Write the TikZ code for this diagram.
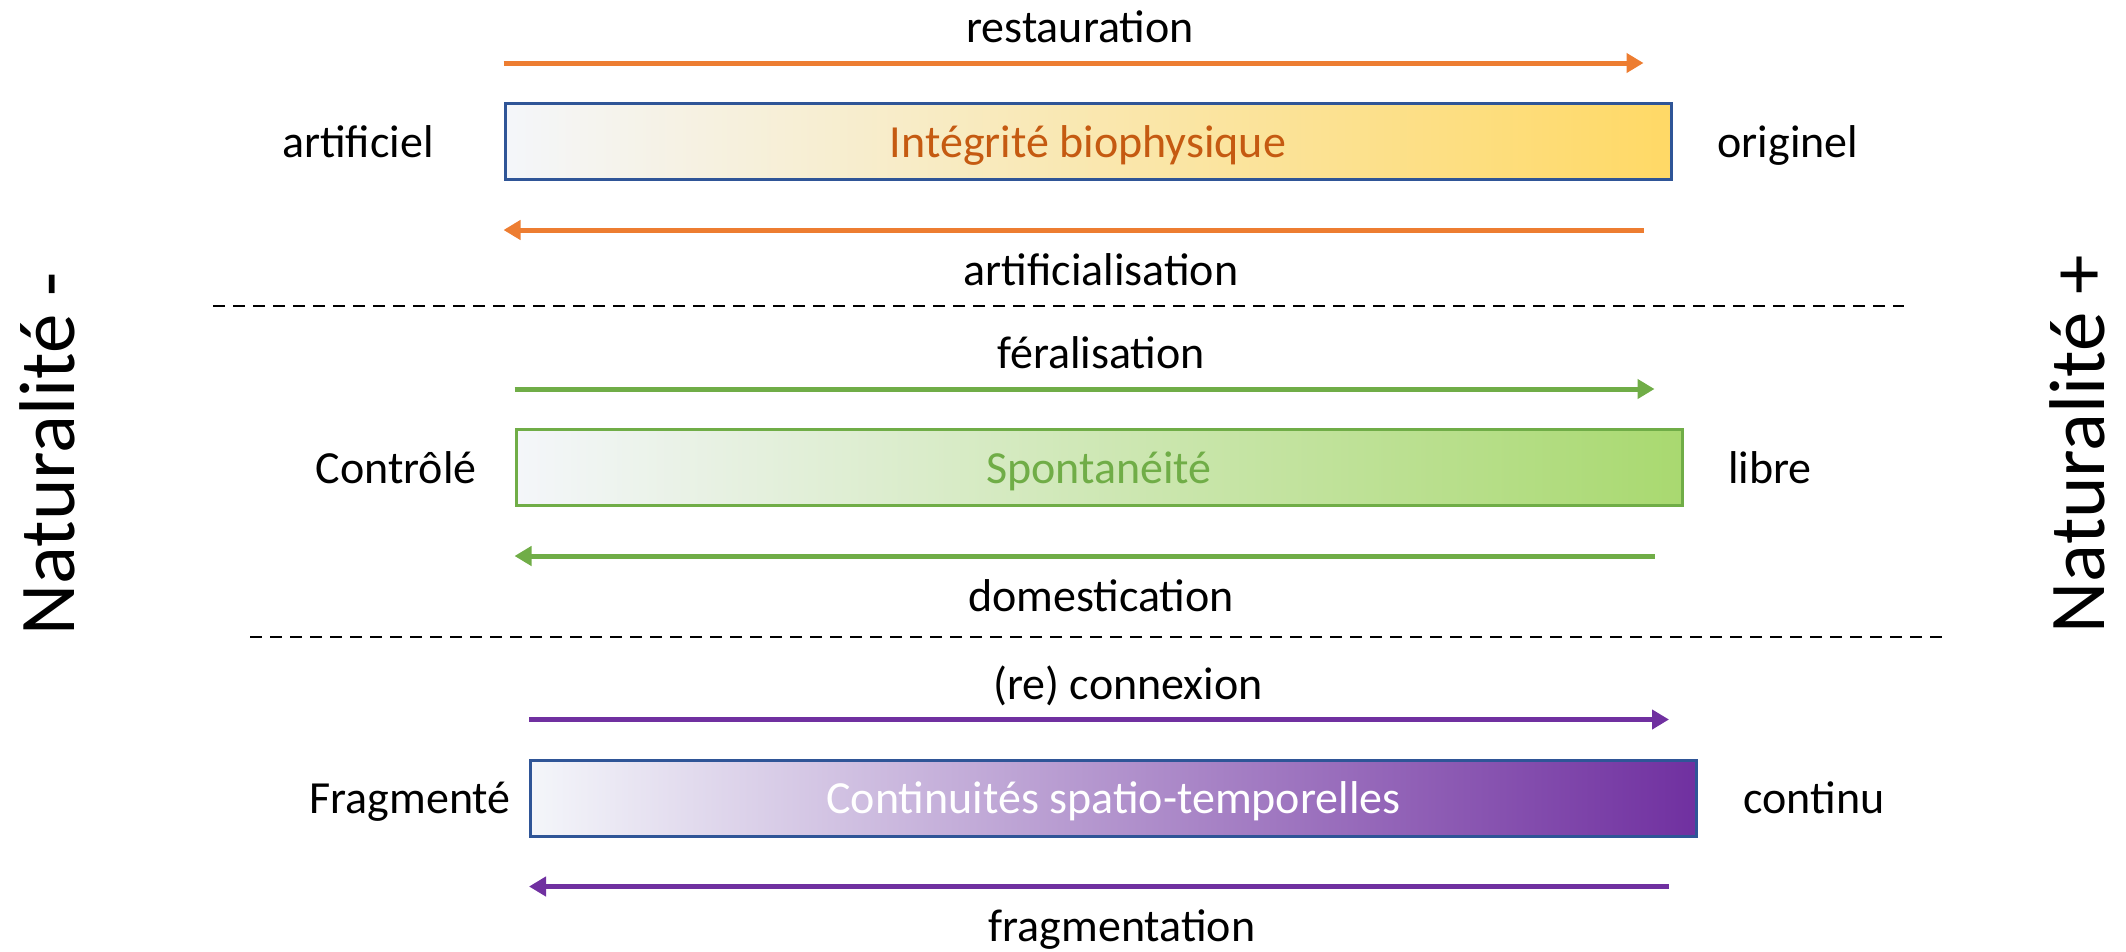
\documentclass[tikz,border=0pt]{standalone}
\usepackage{fontspec}
\setmainfont{Carlito}
\usetikzlibrary{arrows.meta}

\definecolor{paper}{HTML}{F4F6FA}
\definecolor{gold}{HTML}{FFD966}
\definecolor{rust}{HTML}{C55A11}
\definecolor{tangerine}{HTML}{ED7D31}
\definecolor{navy}{HTML}{2F5597}
\definecolor{leaf}{HTML}{70AD47}
\definecolor{lime}{HTML}{A9D970}
\definecolor{violet}{HTML}{7030A0}

\begin{document}
\begin{tikzpicture}[x=1pt,y=-1pt,
	bar/.style={line width=3pt,minimum width=1166pt,minimum height=76pt,inner sep=0pt,left color=paper,text depth=0pt,font=\fontsize{46}{55}\selectfont},
	flow/.style={line width=5pt,-{Triangle[length=17pt,width=19pt]}},
	lbl/.style={anchor=base,inner sep=0pt,font=\fontsize{46}{55}\selectfont},
	axis/.style={anchor=base,inner sep=0pt,rotate=90,font=\fontsize{79}{94}\selectfont},
	sep/.style={line width=2.5pt,dash pattern=on 12pt off 8pt}]

	\useasboundingbox (0,0) rectangle (2126,951);

	% bandeaux
	\node[bar,draw=navy,right color=gold] (b1) at (1088,141.5) {};
	\node[bar,draw=leaf,right color=lime] (b2) at (1099,467.5) {};
	\node[bar,draw=navy,right color=violet] (b3) at (1113.5,798) {};

	\node[lbl,text=rust] (t1) at (1088,157) {Intégrité biophysique};
	\node[lbl,text=leaf] (t2) at (1099,483) {Spontanéité};
	\node[lbl,text=white] (t3) at (1113.5,813) {Continuités spatio-temporelles};

	% fleches
	\draw[flow,tangerine] ([yshift=39pt]b1.north west) -- ([xshift=-29pt,yshift=39pt]b1.north east);
	\draw[flow,tangerine] ([xshift=-29pt,yshift=-49pt]b1.south east) -- ([yshift=-49pt]b1.south west);
	\draw[flow,leaf] ([yshift=39pt]b2.north west) -- ([xshift=-29pt,yshift=39pt]b2.north east);
	\draw[flow,leaf] ([xshift=-29pt,yshift=-49pt]b2.south east) -- ([yshift=-49pt]b2.south west);
	\draw[flow,violet] ([yshift=39pt]b3.north west) -- ([xshift=-29pt,yshift=39pt]b3.north east);
	\draw[flow,violet] ([xshift=-29pt,yshift=-49pt]b3.south east) -- ([yshift=-49pt]b3.south west);

	\node[lbl] (u1) at (1080,42) {restauration};
	\node[lbl] (d1) at (1101,285) {artificialisation};
	\node[lbl] (u2) at (1101,368) {féralisation};
	\node[lbl] (d2) at (1101,611) {domestication};
	\node[lbl] (u3) at (1128,699) {(re) connexion};
	\node[lbl] (d3) at (1122,941) {fragmentation};

	% extremites
	\node[lbl] (l1) at (358,157) {artificiel};
	\node[lbl] (r1) at (1788,157) {originel};
	\node[lbl] (l2) at (396,483) {Contrôlé};
	\node[lbl] (r2) at (1770,483) {libre};
	\node[lbl] (l3) at (410,813) {Fragmenté};
	\node[lbl] (r3) at (1814,813) {continu};

	% separations
	\coordinate (s1a) at (213,306);
	\coordinate (s1b) at (1904,306);
	\coordinate (s2a) at (250,637);
	\coordinate (s2b) at (1942,637);
	\draw[sep] (s1a) -- (s1b);
	\draw[sep] (s2a) -- (s2b);

	\node[axis] (nm) at (74,454) {Naturalité -};
	\node[axis] (np) at (2104,444) {Naturalité +};

\end{tikzpicture}
\end{document}
